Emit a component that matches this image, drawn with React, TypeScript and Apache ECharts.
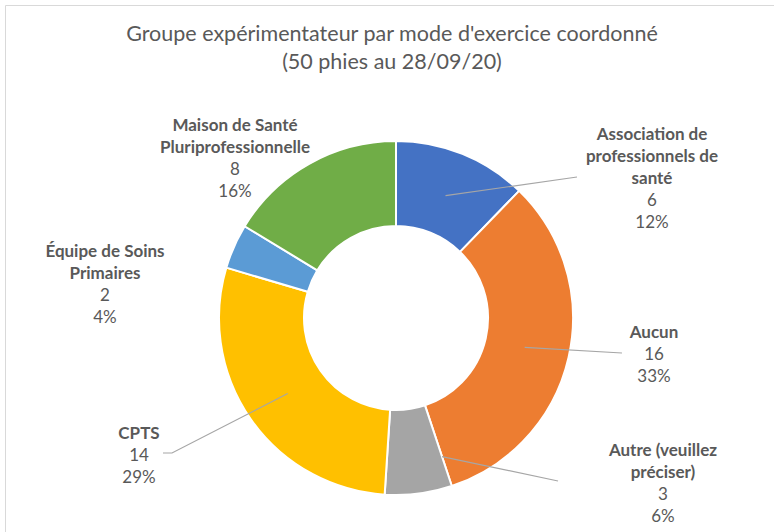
import React, { useEffect, useRef } from "react";
import * as echarts from "echarts";

const categories = [
  "Association de\nprofessionnels de\nsanté",
  "Aucun",
  "Autre (veuillez\npréciser)",
  "CPTS",
  "Équipe de Soins\nPrimaires",
  "Maison de Santé\nPluriprofessionnelle",
];
const values = [6, 16, 3, 14, 2, 8];
const colors = ["#4472C4", "#ED7D31", "#A5A5A5", "#FFC000", "#5B9BD5", "#70AD47"];
const titleLines = [
  "Groupe expérimentateur par mode d'exercice coordonné",
  "(50 phies au 28/09/20)",
];

// layout (positions of label blocks: center x, top y) and leader-line endpoints
const CX = 396;
const CY = 318;
const R_IN = 92;
const R_OUT = 177;
const labelPos: [number, number][] = [
  [652, 122],
  [654, 320],
  [663, 438],
  [139, 421],
  [105, 239],
  [235, 113],
];
const anchorFrac = [0.5, 0.5, 0.0, 0.5, 0.5, 0.5];
const anchorR = [132, 132, 146, 132, 132, 132];
const lineEnds: ([number, number][] | null)[] = [
  [[577, 177]],
  [[622, 353]],
  [[558, 481]],
  [[172, 453], [163, 453]],
  null,
  null,
];

const FONT = "Lato";
const TEXT = "#595959";

export default function App() {
  const ref = useRef<HTMLDivElement>(null);
  useEffect(() => {
    if (!ref.current) return;
    const chart = echarts.init(ref.current, undefined, { renderer: "svg" });
    const total = values.reduce((a, b) => a + b, 0);
    const cum: number[] = [];
    let acc = 0;
    values.forEach((v) => {
      cum.push(acc);
      acc += v;
    });
    const anchorPoint = (i: number): [number, number] => {
      const frac = (cum[i] + values[i] * anchorFrac[i]) / total;
      const a = frac * 2 * Math.PI;
      return [CX + anchorR[i] * Math.sin(a), CY - anchorR[i] * Math.cos(a)];
    };
    const sliceData = categories.map((name, i) => ({
      name,
      value: values[i],
      itemStyle: { color: colors[i] },
    }));
    const labelData = categories.map((name, i) => ({
      name,
      value: values[i],
      labelLine: { show: lineEnds[i] !== null },
    }));
    const common = {
      type: "pie",
      center: [CX, CY],
      radius: [R_IN, R_OUT],
      startAngle: 90,
      clockwise: true,
      avoidLabelOverlap: false,
      silent: true,
      emphasis: { disabled: true },
    };
    chart.setOption({
      animation: false,
      graphic: [
        {
          type: "rect",
          shape: { x: 5.5, y: 5.5, width: 900, height: 700 },
          style: { fill: "none", stroke: "#d9d9d9", lineWidth: 1 },
          silent: true,
        },
        {
          type: "text",
          style: {
            text: titleLines.join("\n"),
            x: 392,
            y: 19,
            textAlign: "center",
            textVerticalAlign: "top",
            fontSize: 21.5,
            lineHeight: 28,
            fill: TEXT,
            fontFamily: FONT,
          },
          silent: true,
        },
      ],
      series: [
        {
          ...common,
          z: 2,
          itemStyle: { borderColor: "#ffffff", borderWidth: 2 },
          label: { show: false },
          labelLine: { show: false },
          data: sliceData,
        },
        {
          ...common,
          z: 5,
          itemStyle: { color: "rgba(0,0,0,0)", borderWidth: 0 },
          label: {
            show: true,
            position: "outside",
            fontFamily: FONT,
            formatter: (p: any) => {
              const pct = Math.round((p.value / total) * 100);
              const nameLines = String(p.name)
                .split("\n")
                .map((l: string) => `{b|${l}}`)
                .join("\n");
              return `${nameLines}\n{v|${p.value}}\n{v|${pct}%}`;
            },
            rich: {
              b: { fontFamily: FONT, fontWeight: "bold", fontSize: 17, lineHeight: 22, color: TEXT, align: "center" },
              v: { fontFamily: FONT, fontSize: 17, lineHeight: 22, color: TEXT, align: "center" },
            },
          },
          labelLine: {
            show: true,
            lineStyle: { color: "#a6a6a6", width: 1.2 },
          },
          labelLayout: (params: any) => {
            const i = params.dataIndex;
            const res: any = {
              x: labelPos[i][0],
              y: labelPos[i][1],
              align: "center",
              verticalAlign: "top",
            };
            const ends = lineEnds[i];
            if (ends) {
              const pts = [anchorPoint(i), ...ends];
              if (pts.length === 2) pts.push(ends[ends.length - 1]);
              res.labelLinePoints = pts;
            }
            return res;
          },
          data: labelData,
        },
      ],
    });
    return () => chart.dispose();
  }, []);
  return (
    <div
      ref={ref}
      style={{ position: "fixed", left: 0, top: 0, width: 774, height: 532, background: "#ffffff" }}
    />
  );
}
